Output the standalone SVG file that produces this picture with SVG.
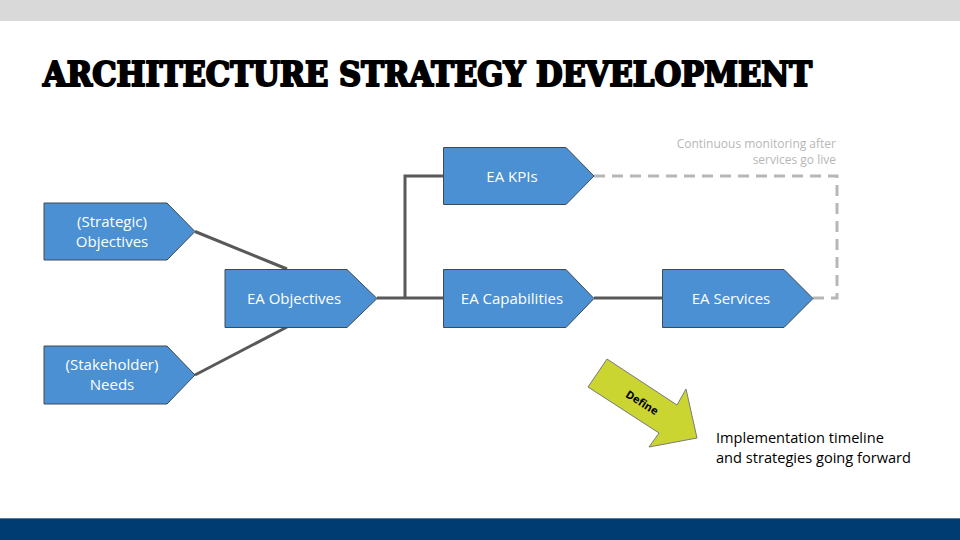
<svg xmlns="http://www.w3.org/2000/svg" width="960" height="540" viewBox="0 0 960 540">
<style>
.node{fill:#4a90d2;stroke:#3f4a55;stroke-width:1}
.lbl{font-family:"Open Sans","Noto Sans",sans-serif;font-size:15px;fill:#ffffff;text-anchor:middle}
.conn{stroke:#595959;stroke-width:3;fill:none}
.dash{stroke:#b7b7b7;stroke-width:3;fill:none;stroke-dasharray:11 7}
.note{font-family:"Open Sans","Noto Sans",sans-serif;font-size:12px;fill:#b7b7b7;text-anchor:end}
.body{font-family:"Open Sans","Noto Sans",sans-serif;font-size:14.6px;fill:#000000}
</style>
<rect x="0" y="0" width="960" height="540" fill="#ffffff"/>
<rect x="0" y="0" width="960" height="21" fill="#d9d9d9"/>
<rect x="0" y="518" width="960" height="22" fill="#003c71"/>
<line x1="0" y1="518.5" x2="960" y2="518.5" stroke="#5a7a9a" stroke-width="1"/>
<text x="43" y="86" font-family="'DejaVu Serif Condensed','DejaVu Serif',serif" font-weight="900" font-size="33" textLength="769" lengthAdjust="spacingAndGlyphs" fill="#000000" stroke="#000" stroke-width="2" stroke-linejoin="round">ARCHITECTURE STRATEGY DEVELOPMENT</text>
<g id="connectors">
<line class="conn" x1="195" y1="231.5" x2="287" y2="269"/>
<line class="conn" x1="195" y1="375" x2="287" y2="327"/>
<line class="conn" x1="377" y1="298" x2="443" y2="298"/>
<polyline class="conn" points="405,298 405,176 443,176"/>
<line class="conn" x1="594" y1="298" x2="662" y2="298"/>
<polyline class="dash" points="594,176 837,176 837,298 813,298"/>
</g>
<g id="strategic-objectives">
<polygon class="node" points="44,203 167,203 195,231.5 167,260 44,260"/>
<text class="lbl" x="112" y="227">(Strategic)</text>
<text class="lbl" x="112" y="247">Objectives</text>
</g>
<g id="stakeholder-needs">
<polygon class="node" points="44,346 167,346 195,375 167,404 44,404"/>
<text class="lbl" x="112" y="370">(Stakeholder)</text>
<text class="lbl" x="112" y="390">Needs</text>
</g>
<g id="ea-objectives">
<polygon class="node" points="225,269.5 347,269.5 377,298.5 347,327.5 225,327.5"/>
<text class="lbl" x="294" y="304">EA Objectives</text>
</g>
<g id="ea-kpis">
<polygon class="node" points="443.5,147.5 566,147.5 594,176 566,204.5 443.5,204.5"/>
<text class="lbl" x="512" y="182">EA KPIs</text>
</g>
<g id="ea-capabilities">
<polygon class="node" points="443.5,269.5 566,269.5 594,298.5 566,327.5 443.5,327.5"/>
<text class="lbl" x="512" y="304">EA Capabilities</text>
</g>
<g id="ea-services">
<polygon class="node" points="662.5,269.5 784,269.5 813,298.5 784,327.5 662.5,327.5"/>
<text class="lbl" x="731" y="304">EA Services</text>
</g>
<g id="monitoring-note">
<text class="note" x="836" y="148">Continuous monitoring after</text>
<text class="note" x="836" y="164">services go live</text>
</g>
<g id="define-arrow">
<polygon points="607,359 677,405 686,389 697,438 649,447 659,433 588,387" fill="#cbd531" stroke="#7a7a7a" stroke-width="1"/>
<text x="640" y="406" transform="rotate(32 640 406)" font-family="'Open Sans','Noto Sans',sans-serif" font-weight="bold" font-size="11" text-anchor="middle" fill="#000">Define</text>
</g>
<g id="implementation-note">
<text class="body" x="716" y="443">Implementation timeline</text>
<text class="body" x="716" y="463">and strategies going forward</text>
</g>
</svg>
